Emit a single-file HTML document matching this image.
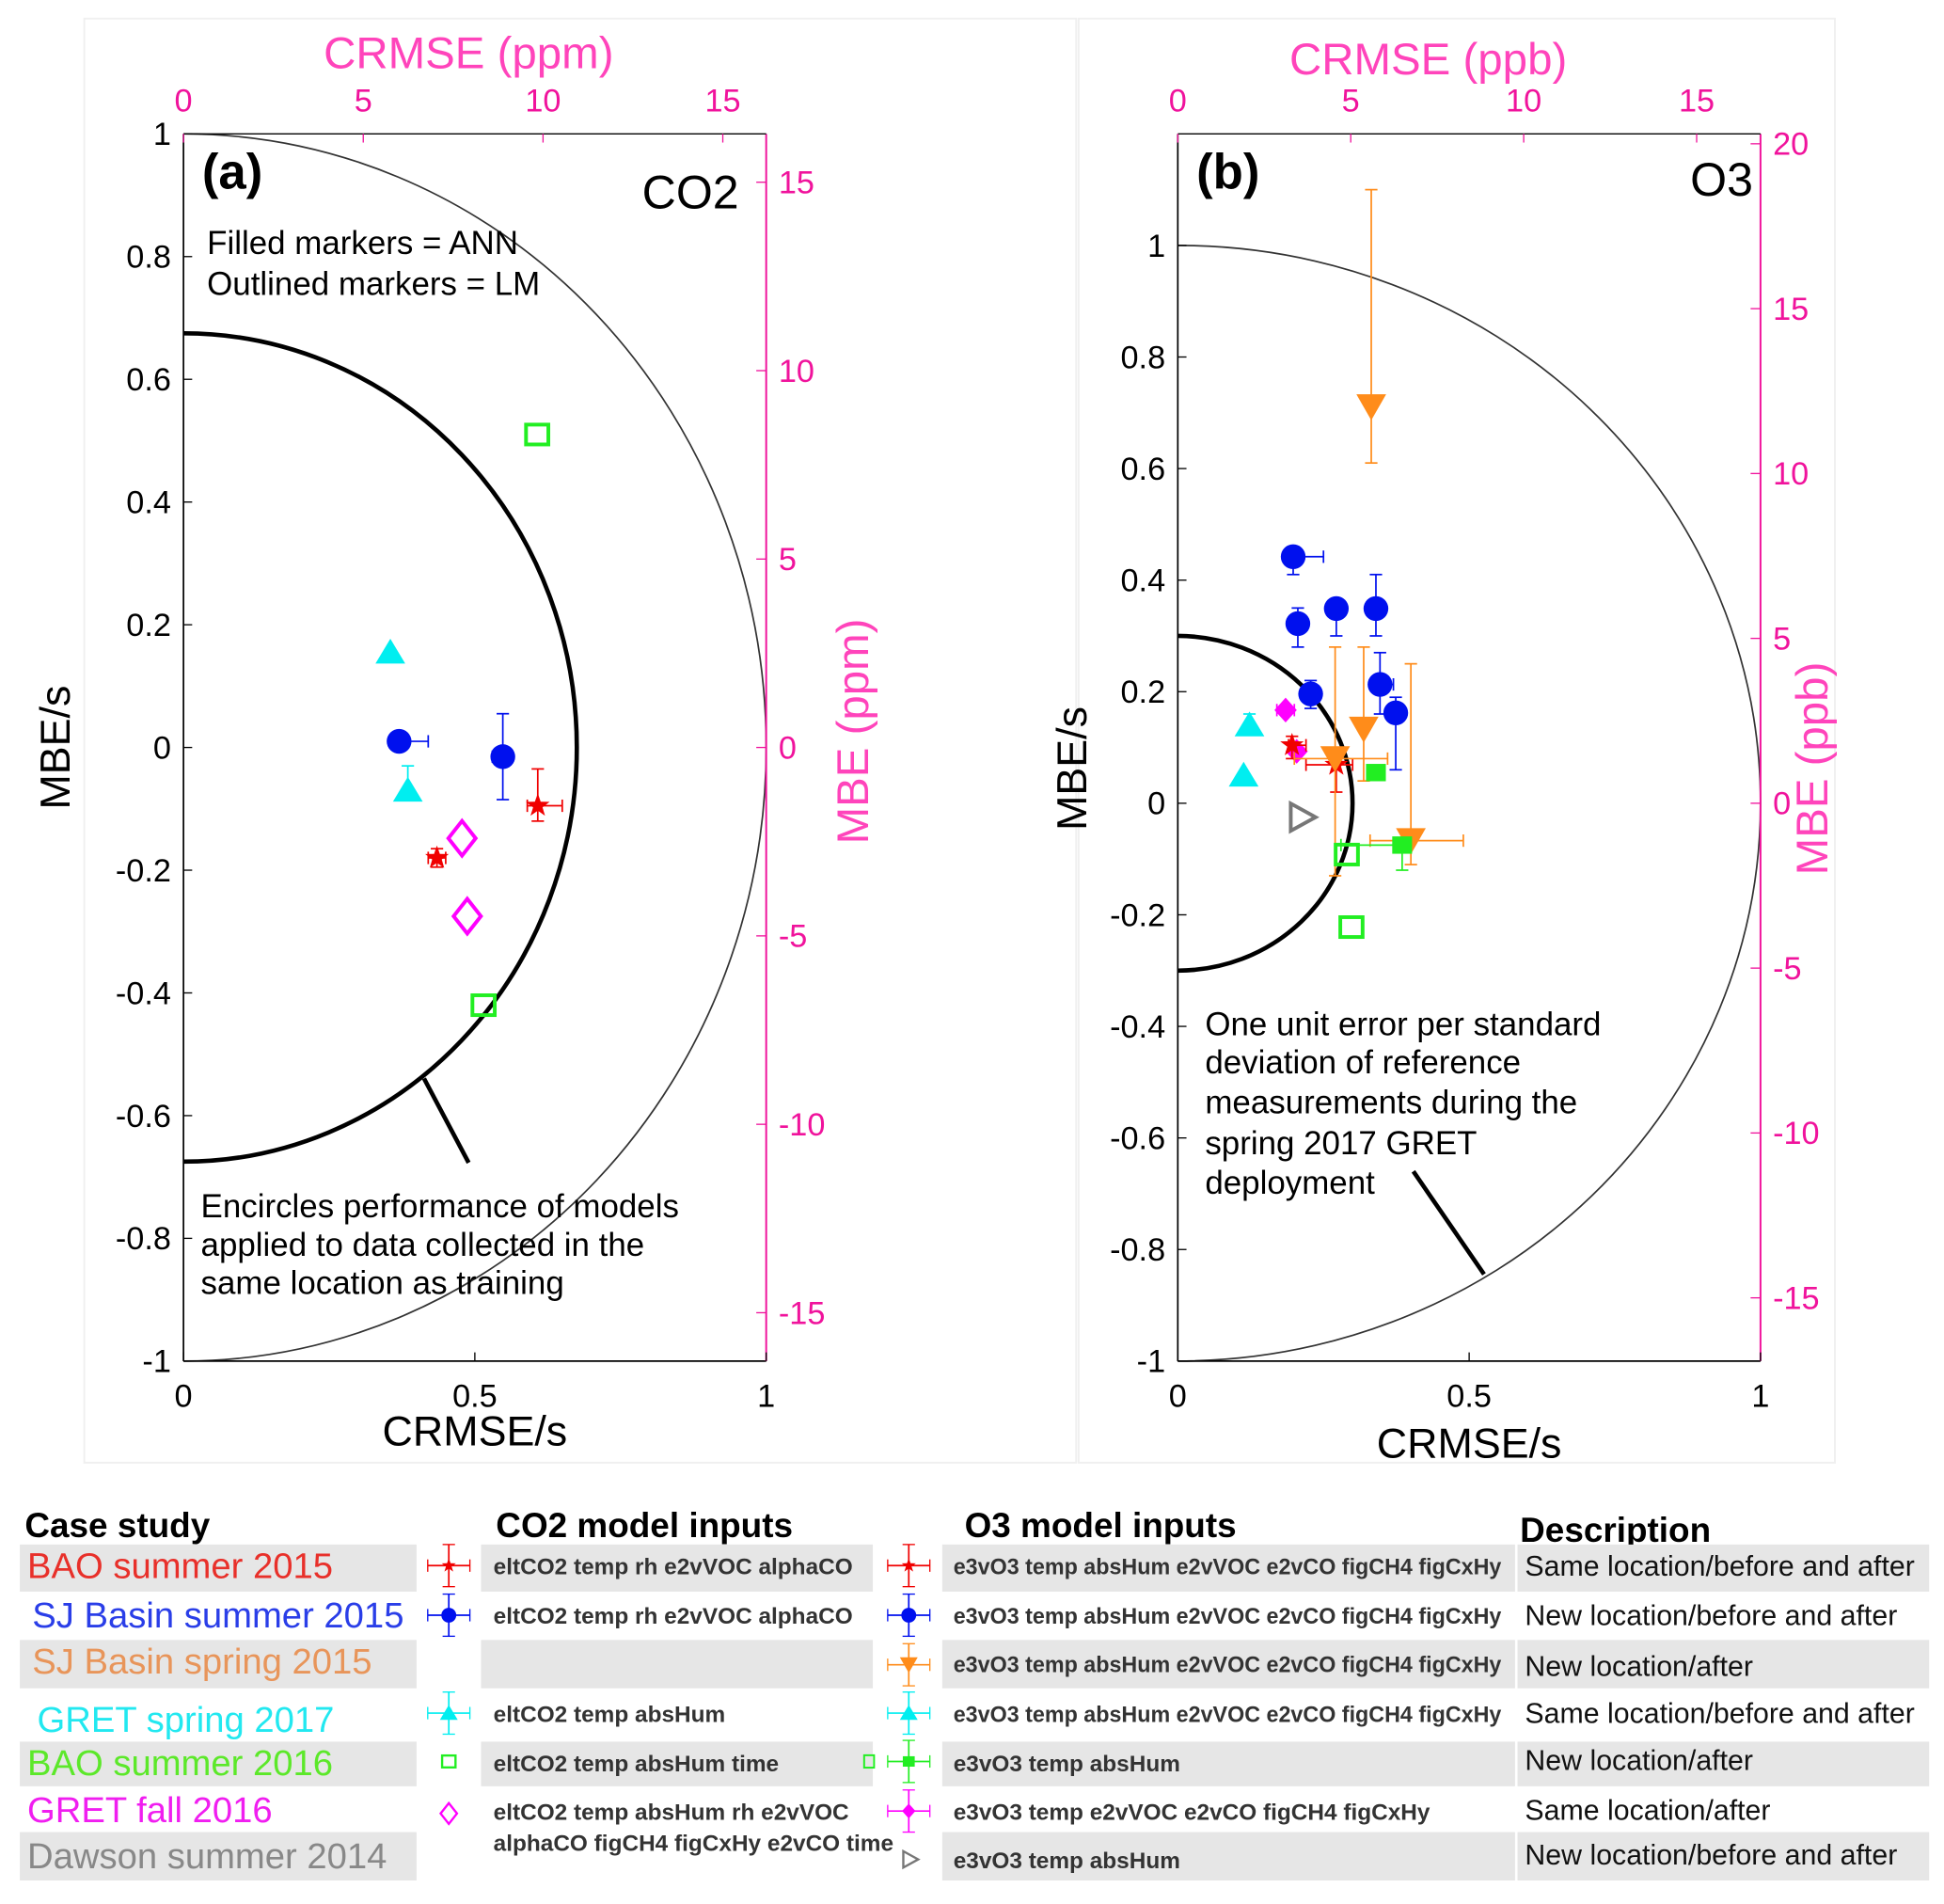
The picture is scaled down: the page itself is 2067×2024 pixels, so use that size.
<!DOCTYPE html>
<html><head><meta charset="utf-8"><style>
html,body{margin:0;padding:0;background:#fff;}
svg{display:block;font-family:"Liberation Sans",sans-serif;}
</style></head><body>
<svg id="fig" width="2067" height="2024" viewBox="0 0 1568 1536" preserveAspectRatio="none" xmlns="http://www.w3.org/2000/svg">
<g id="legend"></g>
</svg>
<script>
// ---- Panel (a) CO2 data ----
const aSeries = ['cyanTri','cyanTri','blueCirc','blueCirc','redStar','redStar','magDiam','magDiam','greenSq','greenSq'];
const aX = [0.355,0.385,0.37,0.548,0.608,0.435,0.478,0.487,0.607,0.515];
const aY = [0.155,-0.07,0.01,-0.015,-0.095,-0.18,-0.148,-0.275,0.51,-0.42];
const aXLo = [null,null,null,0.53,0.59,0.42,null,null,null,null];
const aXHi = [null,null,0.42,0.565,0.65,0.45,null,null,null,null];
const aYLo = [null,null,null,-0.085,-0.12,-0.195,null,null,null,null];
const aYHi = [null,-0.03,null,0.055,-0.035,-0.165,null,null,null,null];
// ---- Panel (b) O3 data ----
const bSeries = ['orangeTri','blueCirc','blueCirc','blueCirc','blueCirc','blueCirc','blueCirc','blueCirc','magDiamF','magDiamF','redStar','redStar','cyanTri','cyanTri','orangeTri','orangeTri','orangeTri','greenSqF','greenSqF','greenSq','greenSq','grayTri'];
const bX = [0.332,0.198,0.206,0.272,0.34,0.228,0.347,0.374,0.185,0.204,0.196,0.272,0.123,0.113,0.27,0.319,0.40,0.34,0.385,0.29,0.298,0.213];
const bY = [0.711,0.442,0.322,0.349,0.349,0.196,0.213,0.162,0.167,0.093,0.104,0.069,0.14,0.05,0.08,0.133,-0.067,0.055,-0.075,-0.092,-0.222,-0.025];
const bXLo = [null,null,null,null,null,null,0.33,null,0.17,null,0.19,0.22,null,null,0.2,null,0.33,null,0.28,null,null,null];
const bXHi = [null,0.25,0.22,null,null,null,0.37,null,0.2,null,0.22,0.3,null,null,0.36,null,0.49,null,0.40,null,null,null];
const bYLo = [0.61,0.41,0.28,0.30,0.30,0.17,0.16,0.06,null,null,0.08,0.02,null,null,-0.13,0.04,-0.11,null,-0.12,null,null,null];
const bYHi = [1.10,0.46,0.35,null,0.41,0.22,0.27,0.19,null,null,0.12,0.09,0.16,null,0.28,0.28,0.25,null,null,null,null,null];
const aYTicks = [1,0.8,0.6,0.4,0.2,0,-0.2,-0.4,-0.6,-0.8,-1];
const bYTicks = [1,0.8,0.6,0.4,0.2,0,-0.2,-0.4,-0.6,-0.8,-1];
const xTicks = [0,0.5,1];
const aTopTicks = [0,5,10,15];
const aRightTicks = [15,10,5,0,-5,-10,-15];
const bTopTicks = [0,5,10,15];
const bRightTicks = [20,15,10,5,0,-5,-10,-15];

const NS='http://www.w3.org/2000/svg';
const svg=document.getElementById('fig');
function el(tag,attrs,parent,text){const e=document.createElementNS(NS,tag);for(const k in attrs)e.setAttribute(k,attrs[k]);if(text!==undefined)e.textContent=text;(parent||svg).appendChild(e);return e;}
const MAG='#f0139c', MAGT='#ff44bb';
const COL={cyanTri:'#00eef0',blueCirc:'#0010ee',redStar:'#f00000',magDiam:'#ff00ff',magDiamF:'#ff00ff',greenSq:'#22ee22',greenSqF:'#22ee22',orangeTri:'#ff8c1a',grayTri:'#777'};

function marker(g,type,cx,cy){
  const c=COL[type];let m;
  if(type==='cyanTri'){m=el('polygon',{points:`${cx},${cy-11} ${cx-12},${cy+9} ${cx+12},${cy+9}`,fill:c},g);}
  else if(type==='orangeTri'){m=el('polygon',{points:`${cx-12},${cy-10} ${cx+12},${cy-10} ${cx},${cy+11}`,fill:c},g);}
  else if(type==='blueCirc'){m=el('ellipse',{cx,cy,rx:10,ry:10,fill:c},g);}
  else if(type==='redStar'){let p=[];for(let i=0;i<10;i++){const r=i%2?4:10,a=-Math.PI/2+i*Math.PI/5;p.push((cx+r*Math.cos(a)).toFixed(1)+','+(cy+r*Math.sin(a)).toFixed(1));}m=el('polygon',{points:p.join(' '),fill:c},g);}
  else if(type==='magDiam'){m=el('polygon',{points:`${cx},${cy-14} ${cx+11},${cy} ${cx},${cy+14} ${cx-11},${cy}`,fill:'none',stroke:c,'stroke-width':3},g);}
  else if(type==='magDiamF'){m=el('polygon',{points:`${cx},${cy-10} ${cx+9},${cy} ${cx},${cy+10} ${cx-9},${cy}`,fill:c},g);}
  else if(type==='greenSq'){m=el('rect',{x:cx-9,y:cy-8,width:18,height:16,fill:'none',stroke:c,'stroke-width':3},g);}
  else if(type==='greenSqF'){m=el('rect',{x:cx-8,y:cy-7,width:16,height:14,fill:c},g);}
  else if(type==='grayTri'){m=el('polygon',{points:`${cx-9},${cy-11} ${cx+11},${cy} ${cx-9},${cy+11}`,fill:'none',stroke:c,'stroke-width':3},g);}
  return m;
}
function errbar(g,c,x1,y1,x2,y2,horiz){
  el('line',{x1,y1,x2,y2,stroke:c,'stroke-width':1.3},g);
  if(horiz){el('line',{x1:x2,y1:y2-5,x2:x2,y2:y2+5,stroke:c,'stroke-width':1.3},g);}
  else{el('line',{x1:x2-5,y1:y2,x2:x2+5,y2:y2,stroke:c,'stroke-width':1.3},g);}
}

function panel(o){
  const g=el('g',{});
  
  
  el('rect',{x:o.frame[0],y:o.frame[1],width:o.frame[2],height:o.frame[3],fill:'none',stroke:'#f0f0f0','stroke-width':1.5},g);
  const X=v=>o.L+v*(o.R-o.L), Y=v=>o.Y0-v*o.ys;
  const outer=el('path',{d:`M${o.L},${Y(1)} A${X(1)-o.L},${o.ys} 0 0 1 ${o.L},${Y(-1)}`,fill:'none',stroke:'#333','stroke-width':1.3},g);
  
  
  const r=o.inner;
  const inner=el('path',{d:`M${o.L},${Y(r)} A${X(r)-o.L},${r*o.ys} 0 0 1 ${o.L},${Y(-r)}`,fill:'none',stroke:'#000','stroke-width':3.5},g);
  
  
  el('line',{x1:o.ann[0],y1:o.ann[1],x2:o.ann[2],y2:o.ann[3],stroke:'#000','stroke-width':3.5},g);
  el('line',{x1:o.L,y1:o.T,x2:o.L,y2:o.B,stroke:'#000','stroke-width':1.3},g);
  el('line',{x1:o.L,y1:o.B,x2:o.R,y2:o.B,stroke:'#000','stroke-width':1.3},g);
  el('line',{x1:o.R,y1:o.T,x2:o.R,y2:o.B,stroke:MAG,'stroke-width':1.5},g);
  el('line',{x1:o.L,y1:o.T,x2:o.R,y2:o.T,stroke:'#000','stroke-width':1},g);
  o.yTicks.forEach(v=>{el('line',{x1:o.L,y1:Y(v),x2:o.L+7,y2:Y(v),stroke:'#000'},g);
    const t=el('text',{x:o.L-10,y:Y(v)+9,'text-anchor':'end','font-size':26},g,String(v));
    });
  xTicks.forEach(v=>{el('line',{x1:X(v),y1:o.B,x2:X(v),y2:o.B-7,stroke:'#000'},g);
    const t=el('text',{x:X(v),y:o.B+37,'text-anchor':'middle','font-size':26},g,String(v));
    });
  o.topTicks.forEach(v=>{const px=o.L+v*o.tpx;el('line',{x1:px,y1:o.T,x2:px,y2:o.T+7,stroke:MAG},g);
    const t=el('text',{x:px,y:o.T-18,'text-anchor':'middle','font-size':26,fill:MAG},g,String(v));
    });
  o.rightTicks.forEach(v=>{const py=o.Y0-v*o.rpx;el('line',{x1:o.R,y1:py,x2:o.R-8,y2:py,stroke:MAG},g);
    const t=el('text',{x:o.R+10,y:py+9,'font-size':26,fill:MAG},g,String(v));
    });
  let t=el('text',{x:(o.L+o.R)/2,y:o.xlabY,'text-anchor':'middle','font-size':34},g,'CRMSE/s');
  
  t=el('text',{x:0,y:0,'text-anchor':'middle','font-size':34,transform:`translate(${o.ylab[0]},${o.ylab[1]}) rotate(-90)`},g,'MBE/s');
  
  t=el('text',{x:o.toplab[0],y:o.toplab[1],'text-anchor':'middle','font-size':36,fill:MAGT},g,o.toplab[2]);
  
  t=el('text',{x:0,y:0,'text-anchor':'middle','font-size':36,fill:MAGT,transform:`translate(${o.rlab[0]},${o.rlab[1]}) rotate(-90)`},g,o.rlab[2]);
  
  t=el('text',{x:o.L+15,y:o.T+44,'font-size':40,'font-weight':'bold'},g,o.letter);
  
  t=el('text',{x:o.gasX,y:o.gasY,'text-anchor':'end','font-size':38},g,o.gas);
  
  o.notes.forEach(n=>{const nt=el('text',{x:n[0],y:n[1],'font-size':26.5},g,n[2]);
    });
  o.series.forEach((s,i)=>{
    const c=COL[s],px=X(o.xs[i]),py=Y(o.ys_[i]);
    const pg=el('g',{},g);
    
    
    if(o.yhi[i]!=null)errbar(pg,c,px,py,px,Y(o.yhi[i]),false);
    if(o.ylo[i]!=null)errbar(pg,c,px,py,px,Y(o.ylo[i]),false);
    if(o.xhi[i]!=null)errbar(pg,c,px,py,X(o.xhi[i]),py,true);
    if(o.xlo[i]!=null)errbar(pg,c,px,py,X(o.xlo[i]),py,true);
    marker(pg,s,px,py);
  });
}
panel({name:'panel-a-co2',frame:[68,15,800,1165],L:148,R:618,T:108,B:1098,Y0:603,ys:495,inner:0.675,ann:[342,870,378,938],
  yTicks:aYTicks,topTicks:aTopTicks,tpx:29,rightTicks:aRightTicks,rpx:30.4,xlabY:1166,ylab:[56,603],toplab:[378,55,'CRMSE (ppm)'],rlab:[700,590,'MBE (ppm)'],
  letter:'(a)',gas:'CO2',gasX:596,gasY:168,notes:[[167,205,'Filled markers = ANN'],[167,238,'Outlined markers = LM'],[162,982,'Encircles performance of models'],[162,1013,'applied to data collected in the'],[162,1044,'same location as training']],
  series:aSeries,xs:aX,ys_:aY,xlo:aXLo,xhi:aXHi,ylo:aYLo,yhi:aYHi});
panel({name:'panel-b-o3',frame:[870,15,610,1165],L:950,R:1420,T:108,B:1098,Y0:648,ys:450,inner:0.3,ann:[1140,945,1197,1028],
  yTicks:bYTicks,topTicks:bTopTicks,tpx:27.9,rightTicks:bRightTicks,rpx:26.6,xlabY:1176,ylab:[876,620],toplab:[1152,60,'CRMSE (ppb)'],rlab:[1474,620,'MBE (ppb)'],
  letter:'(b)',gas:'O3',gasX:1414,gasY:158,notes:[[972,835,'One unit error per standard'],[972,866,'deviation of reference'],[972,898,'measurements during the'],[972,931,'spring 2017 GRET'],[972,963,'deployment']],
  series:bSeries,xs:bX,ys_:bY,xlo:bXLo,xhi:bXHi,ylo:bYLo,yhi:bYHi});

// ---- Legend table ----
const lg=document.getElementById('legend');
const heads=[[20,1240,'Case study'],[400,1240,'CO2 model inputs'],[778,1240,'O3 model inputs'],[1226,1244,'Description']];
heads.forEach(h=>{const t=el('text',{x:h[0],y:h[1],'font-size':28,'font-weight':'bold'},lg,h[2]);});
const bands=[[1246,38],[1323,39],[1405,36],[1478,39]];
bands.forEach((b,i)=>{
  el('rect',{x:16,y:b[0],width:320,height:b[1],fill:'#e6e6e6'},lg);
  if(i<3)el('rect',{x:388,y:b[0],width:316,height:b[1],fill:'#e6e6e6'},lg);
  el('rect',{x:760,y:b[0],width:462,height:b[1],fill:'#e6e6e6'},lg);
  el('rect',{x:1224,y:b[0],width:332,height:b[1],fill:'#e6e6e6'},lg);
});
const cases=[['BAO  summer 2015','#e8302a',22,1273],['SJ Basin  summer 2015','#2a3ee8',26,1313],['SJ Basin  spring 2015','#e8955a',26,1350],['GRET  spring 2017','#22e8f0',30,1397],['BAO  summer 2016','#5ce82a',22,1432],['GRET  fall 2016','#f01ef0',22,1470],['Dawson  summer 2014','#888',22,1507]];
cases.forEach(c=>{const t=el('text',{x:c[2],y:c[3],'font-size':29,fill:c[1]},lg,c[0]);});
const co2in=[['eltCO2 temp rh e2vVOC alphaCO',1270],['eltCO2 temp rh e2vVOC alphaCO',1310],['eltCO2 temp absHum',1389],['eltCO2 temp absHum time',1429],['eltCO2 temp absHum rh e2vVOC',1468],['alphaCO figCH4 figCxHy e2vCO time',1493]];
co2in.forEach(c=>{const t=el('text',{x:398,y:c[1],'font-size':18.5,'font-weight':'bold',fill:'#333'},lg,c[0]);});
const o3in=[['e3vO3 temp absHum  e2vVOC e2vCO  figCH4 figCxHy',1270],['e3vO3 temp absHum  e2vVOC e2vCO  figCH4 figCxHy',1310],['e3vO3 temp absHum  e2vVOC e2vCO  figCH4 figCxHy',1349],['e3vO3 temp absHum  e2vVOC e2vCO  figCH4 figCxHy',1389],['e3vO3 temp absHum',1429],['e3vO3 temp e2vVOC e2vCO  figCH4 figCxHy',1468],['e3vO3 temp absHum',1507]];
o3in.forEach(c=>{const a={x:769,y:c[1],'font-size':18.5,'font-weight':'bold',fill:'#333'};
  if(c[0].length>42){a.textLength=442;a.lengthAdjust='spacingAndGlyphs';}
  const t=el('text',a,lg,c[0]);});
const desc=[['Same location/before and after',1271],['New location/before and after',1311],['New location/after',1352],['Same location/before and after',1390],['New location/after',1428],['Same location/after',1468],['New location/before and after',1504]];
desc.forEach(d=>{const t=el('text',{x:1230,y:d[1],'font-size':23,fill:'#111'},lg,d[0]);});
const lsym=[[362,1263,'redStar',1],[362,1303,'blueCirc',1],[362,1382,'cyanTri',1],[362,1421,'greenSq',0],[362,1463,'magDiam',0],
            [733,1263,'redStar',1],[733,1303,'blueCirc',1],[733,1343,'orangeTri',1],[733,1382,'cyanTri',1],[733,1421,'greenSqF',1],[733,1461,'magDiamF',1],[734,1500,'grayTri',0]];
lsym.forEach(s=>{const g=el('g',{},lg);
  const c=COL[s[2]];
  if(s[3]){el('line',{x1:s[0],y1:s[1]-17,x2:s[0],y2:s[1]+17,stroke:c,'stroke-width':1.3},g);el('line',{x1:s[0]-17,y1:s[1],x2:s[0]+17,y2:s[1],stroke:c,'stroke-width':1.3},g);
    [[-17,0],[17,0]].forEach(d=>el('line',{x1:s[0]+d[0],y1:s[1]-5,x2:s[0]+d[0],y2:s[1]+5,stroke:c},g));
    [-17,17].forEach(d=>el('line',{x1:s[0]-5,y1:s[1]+d,x2:s[0]+5,y2:s[1]+d,stroke:c},g));}
  const m=g.appendChild(document.createElementNS(NS,'g'));
  m.setAttribute('transform',`translate(${s[0]},${s[1]}) scale(0.6) translate(${-s[0]},${-s[1]})`);
  marker(m,s[2],s[0],s[1]);
});
el('rect',{x:697,y:1416,width:8,height:10,fill:'none',stroke:'#22ee22','stroke-width':1.5},lg);
</script>
</body></html>
